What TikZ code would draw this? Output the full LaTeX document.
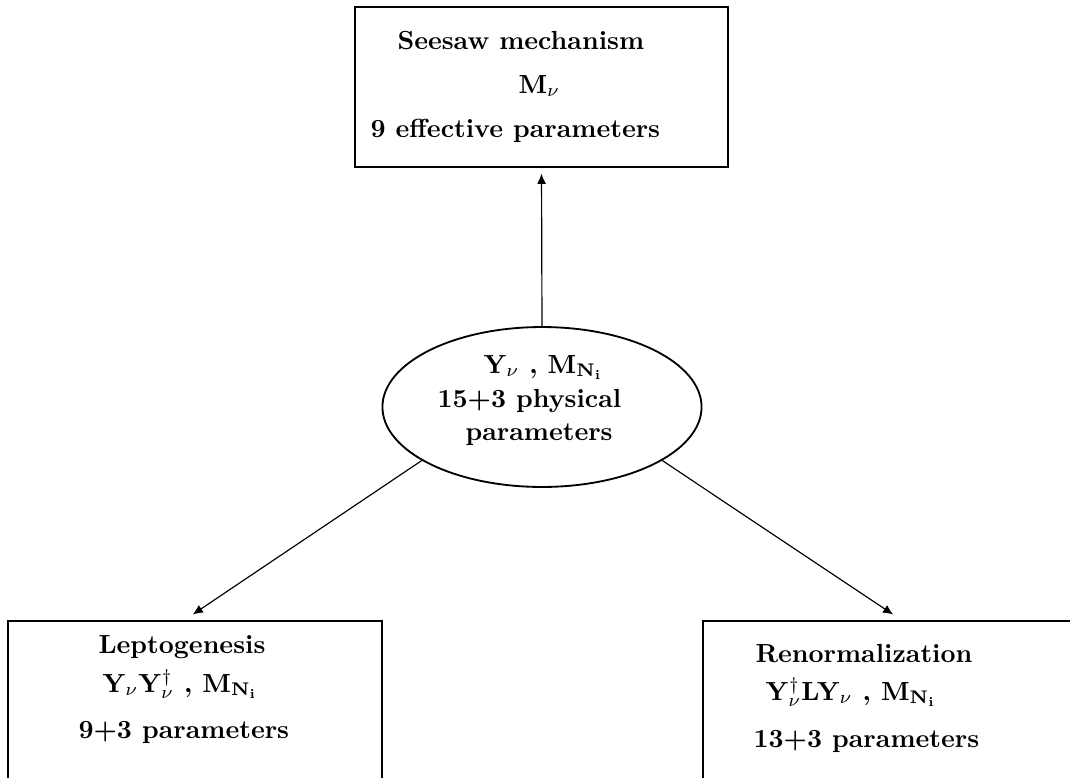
\documentclass[tikz,border=0pt]{standalone}
\usepackage{tikz}
\usepackage{xcolor}
\usetikzlibrary{arrows,arrows.meta,shapes.geometric}

\begin{document}
\begin{tikzpicture}[x=0.382pt,y=-0.382pt]
\tikzset{box/.style={draw,rectangle,line width=0.5pt,inner sep=0pt}}
\tikzset{blob/.style={draw,ellipse,line width=0.7pt,inner sep=0pt,minimum width=121.9pt,minimum height=61.1pt}}
\tikzset{txt/.style={anchor=base west,inner sep=0pt,font=\bfseries}}
\tikzset{link/.style={-{Latex[length=3.9pt,width=3.4pt]},line width=0.45pt}}

\useasboundingbox (0,0) rectangle (1070,778);
\clip (0,0) rectangle (1070,778);

% frames
\node[box,minimum width=142.5pt,minimum height=61.1pt] (seesaw) at (541.5,87) {};
\node[blob] (yuk) at (542,407) {};
\node[box,minimum width=142.9pt,minimum height=76.4pt] (lepto) at (195,721) {};
\node[box,minimum width=144.4pt,minimum height=76.4pt] (renorm) at (892,721) {};

% texts
\node[txt] (seesawA) at (397,49) {Seesaw mechanism};
\node[txt] (seesawB) at (518,93) {$\mathbf{M}_\nu$};
\node[txt] (seesawC) at (370,137) {9 effective parameters};

\node[txt] (yukA) at (483,373) {$\mathbf{Y}_\nu$ , $\mathbf{M}_{\mathbf{N_i}}$};
\node[txt] (yukB) at (437,407) {15+3 physical};
\node[txt] (yukC) at (465,440) {parameters};

\node[txt] (leptoA) at (98,653) {Leptogenesis};
\node[txt] (leptoB) at (102,692) {$\mathbf{Y}_\nu\mathbf{Y}_\nu^\dagger$ , $\mathbf{M}_{\mathbf{N_i}}$};
\node[txt] (leptoC) at (78,738) {9+3 parameters};

\node[txt] (renormA) at (755,662) {Renormalization};
\node[txt] (renormB) at (765,700) {$\mathbf{Y}_\nu^\dagger\mathbf{L}\mathbf{Y}_\nu$ , $\mathbf{M}_{\mathbf{N_i}}$};
\node[txt] (renormC) at (753,747) {13+3 parameters};

% arrows
\draw[link,shorten >=2.3pt] (yuk.north) -- (seesaw.south);
\draw[link,shorten >=4pt] (yuk.204) -- ([xshift=-4.2pt]lepto.north);
\draw[link,shorten >=4pt] (yuk.336) -- ([xshift=3.8pt]renorm.north);

\end{tikzpicture}
\end{document}
